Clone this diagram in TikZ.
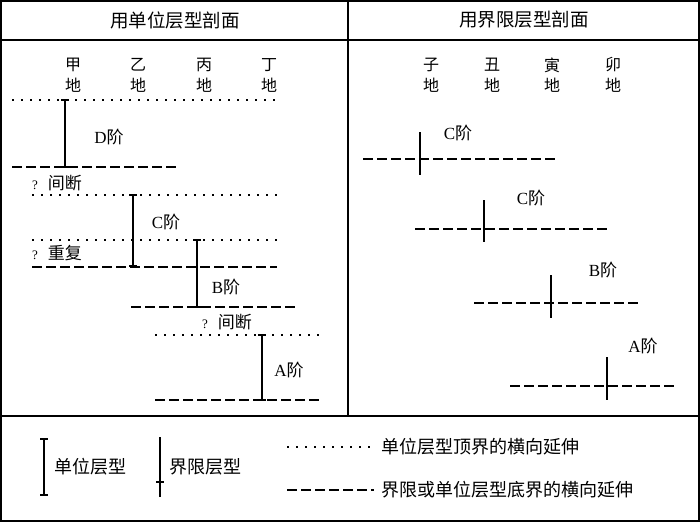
\documentclass[tikz,border=0pt]{standalone}
\usepackage{fontspec}
\setmainfont{Liberation Serif}
\newfontfamily\cjk{Noto Sans CJK SC}
\begin{document}
\begin{tikzpicture}[x=1pt,y=-1pt,
  frame/.style={line width=1.8pt},
  topline/.style={line width=1.5pt,dash pattern=on 1.5pt off 7.5pt},
  baseline/.style={line width=1.7pt,dash pattern=on 9.5pt off 4.5pt},
  unitbar/.style={line width=1.6pt},
  tick/.style={line width=1.6pt},
  head/.style={font=\cjk\fontsize{18.5}{20}\selectfont},
  loc/.style={font=\cjk\fontsize{16}{18}\selectfont,inner sep=0pt},
  lab/.style={font=\fontsize{17}{19}\selectfont,inner sep=0pt},
  leg/.style={font=\cjk\fontsize{18}{20}\selectfont,inner sep=0pt,anchor=west}]
\useasboundingbox (0,0) rectangle (700,522);
% frame
\draw[frame] (1,1) rectangle (699,521);
\draw[frame] (0,40) -- (700,40);
\draw[frame] (348,0) -- (348,416);
\draw[frame] (0,416) -- (700,416);
\node[head] (h1) at (175,20) {用单位层型剖面};
\node[head] (h2) at (524,20) {用界限层型剖面};
% column labels
\foreach \n/\x/\t in {jia/73/甲, yi/138/乙, bing/204/丙, ding/269/丁, zi/431/子, chou/492/丑, yin/552/寅, mao/613/卯}{
  \node[loc] (\n1) at (\x,65) {\t};
  \node[loc] (\n2) at (\x,85) {地};
}
% left panel lines
\draw[topline] (12,100) -- (282,100);
\draw[baseline] (12,167) -- (180,167);
\draw[topline] (32,195) -- (280,195);
\draw[topline] (32,240) -- (280,240);
\draw[baseline] (32,267) -- (277,267);
\draw[baseline] (131,307) -- (298,307);
\draw[topline] (155,335) -- (323,335);
\draw[baseline] (155,400) -- (322,400);
% unit bars
\foreach \x/\ya/\yb in {65/100/167, 133/195/266, 197/240/307, 262/335/400}{
  \draw[unitbar] (\x,\ya) -- (\x,\yb);
  \draw[unitbar] (\x-4,\ya) -- (\x+4,\ya);
  \draw[unitbar] (\x-4,\yb) -- (\x+4,\yb);
}
\node[lab] (D) at (109,137) {D{\cjk 阶}};
\node[lab] (C) at (166,222) {C{\cjk 阶}};
\node[lab] (B) at (226,287) {B{\cjk 阶}};
\node[lab] (A) at (289,370) {A{\cjk 阶}};
\node[lab,anchor=west] (q1) at (32,183) {{\fontsize{13}{13}\selectfont ?}\hspace{10pt}{\cjk 间断}};
\node[lab,anchor=west] (q2) at (32,253) {{\fontsize{13}{13}\selectfont ?}\hspace{10pt}{\cjk 重复}};
\node[lab,anchor=west] (q3) at (202,322) {{\fontsize{13}{13}\selectfont ?}\hspace{10pt}{\cjk 间断}};
% right boundary stratotypes
\draw[baseline] (363,159) -- (556,159);
\draw[tick] (420,132) -- (420,175);
\node[lab] (C1) at (458,133) {C{\cjk 阶}};
\draw[baseline] (415,229) -- (607,229);
\draw[tick] (484,200) -- (484,242);
\node[lab] (C2) at (531,198) {C{\cjk 阶}};
\draw[baseline] (474,303) -- (641,303);
\draw[tick] (551,275) -- (551,318);
\node[lab] (B2) at (603,270) {B{\cjk 阶}};
\draw[baseline] (510,386) -- (677,386);
\draw[tick] (607,357) -- (607,400);
\node[lab] (A2) at (643,346) {A{\cjk 阶}};
% legend
\draw[unitbar] (44,439) -- (44,495);
\draw[unitbar] (40,439) -- (48,439);
\draw[unitbar] (40,495) -- (48,495);
\node[leg] (l1) at (54,467) {单位层型};
\draw[tick] (160,437) -- (160,497);
\draw[tick] (156,482) -- (164,482);
\node[leg] (l2) at (169,467) {界限层型};
\draw[topline] (287,447) -- (374,447);
\node[leg] (l3) at (381,447) {单位层型顶界的横向延伸};
\draw[baseline] (287,490) -- (374,490);
\node[leg] (l4) at (381,490) {界限或单位层型底界的横向延伸};
\end{tikzpicture}
\end{document}
